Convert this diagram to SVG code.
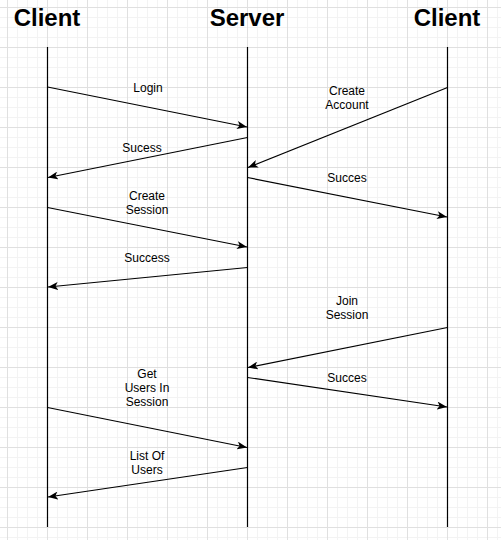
<svg xmlns="http://www.w3.org/2000/svg" width="501" height="540" viewBox="0 0 501 540">
  <defs>
    <pattern id="grid" patternUnits="userSpaceOnUse" x="7" y="7" width="40" height="40">
      <path d="M10.5,0 V40 M20.5,0 V40 M30.5,0 V40 M0,10.5 H40 M0,20.5 H40 M0,30.5 H40" stroke="#f3f3f3" stroke-width="1" fill="none"/>
      <path d="M0.5,0 V40 M0,0.5 H40" stroke="#e0e0e0" stroke-width="1" fill="none"/>
    </pattern>
    <marker id="arrow" markerUnits="userSpaceOnUse" viewBox="0 0 10 8" refX="10" refY="4" markerWidth="10" markerHeight="8" orient="auto">
      <path d="M0,0 L10,4 L0,8 L2.5,4 z" fill="#000"/>
    </marker>
  </defs>
  <style>
    .title { font-family: "Liberation Sans", Arial, sans-serif; font-weight: bold; font-size: 24px; fill: #000; text-anchor: middle; }
    .label { font-family: "Liberation Sans", Arial, sans-serif; font-size: 12px; fill: #000; text-anchor: middle; }
    .life { stroke: #000; stroke-width: 1.2; fill: none; }
    .msg { stroke: #000; stroke-width: 1.2; fill: none; marker-end: url(#arrow); }
  </style>
  <rect x="0" y="0" width="501" height="540" fill="#fff"/>
  <rect x="0" y="0" width="501" height="540" fill="url(#grid)"/>

  <g id="client-left">
    <text class="title" x="47" y="26">Client</text>
    <line class="life" x1="47.5" y1="47" x2="47.5" y2="527"/>
  </g>
  <g id="server">
    <text class="title" x="247" y="26">Server</text>
    <line class="life" x1="247.5" y1="47" x2="247.5" y2="527"/>
  </g>
  <g id="client-right">
    <text class="title" x="447" y="26">Client</text>
    <line class="life" x1="447.5" y1="47" x2="447.5" y2="527"/>
  </g>

  <g id="connectors">
    <line class="msg" x1="47.5" y1="87" x2="247" y2="127"/>
    <line class="msg" x1="247.5" y1="137.5" x2="48" y2="177.5"/>
    <line class="msg" x1="447.5" y1="87.5" x2="248" y2="167.5"/>
    <line class="msg" x1="247.5" y1="177.5" x2="447" y2="217"/>
    <line class="msg" x1="47.5" y1="207.5" x2="247" y2="247"/>
    <line class="msg" x1="247.5" y1="267.5" x2="48" y2="287"/>
    <line class="msg" x1="447.5" y1="327.5" x2="248" y2="367.5"/>
    <line class="msg" x1="247.5" y1="377.5" x2="447" y2="407"/>
    <line class="msg" x1="47.5" y1="407.5" x2="247" y2="447.5"/>
    <line class="msg" x1="247.5" y1="467.5" x2="48" y2="497"/>
  </g>

  <g id="labels">
    <text class="label" x="148" y="92">Login</text>
    <text class="label" x="142" y="152">Sucess</text>
    <text class="label" x="347" y="95">Create</text>
    <text class="label" x="347" y="109">Account</text>
    <text class="label" x="347" y="182">Succes</text>
    <text class="label" x="147" y="200">Create</text>
    <text class="label" x="147" y="214">Session</text>
    <text class="label" x="147" y="262">Success</text>
    <text class="label" x="347" y="305">Join</text>
    <text class="label" x="347" y="319">Session</text>
    <text class="label" x="347" y="382">Succes</text>
    <text class="label" x="147" y="378">Get</text>
    <text class="label" x="147" y="392">Users In</text>
    <text class="label" x="147" y="406">Session</text>
    <text class="label" x="147" y="460">List Of</text>
    <text class="label" x="147" y="474">Users</text>
  </g>
</svg>
